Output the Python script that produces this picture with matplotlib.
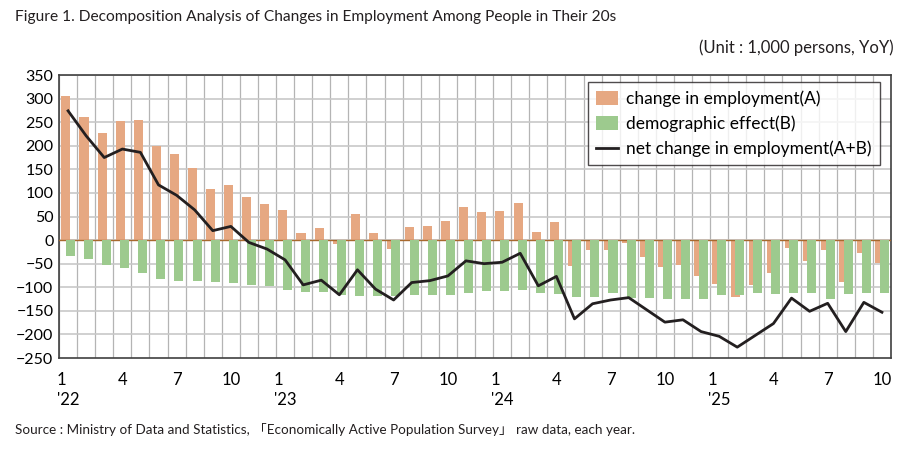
import numpy as np
import matplotlib
matplotlib.use('Agg')
import matplotlib.pyplot as plt

plt.rcParams['font.family'] = ['Lato', 'DejaVu Sans']

# 월별 데이터 (2022.1 ~ 2025.10), 단위: 천명
months = list(range(1, 13)) * 3 + list(range(1, 11))
years = ["'22"] * 12 + ["'23"] * 12 + ["'24"] * 12 + ["'25"] * 10

change_a = [306, 260, 227, 252, 255, 199, 182, 153, 109, 117, 91, 77,
            64, 16, 25, -8, 55, 15, -18, 27, 30, 40, 70, 59,
            62, 78, 17, 38, -54, -22, -20, -7, -35, -57, -52, -77,
            -94, -120, -96, -70, -17, -45, -20, -88, -28, -49]
demo_b = [-33, -41, -52, -60, -70, -82, -86, -86, -89, -90, -95, -98,
          -105, -110, -110, -116, -118, -118, -118, -116, -116, -116, -112, -109,
          -107, -105, -112, -115, -121, -121, -112, -123, -123, -124, -124, -124,
          -117, -117, -112, -115, -112, -112, -124, -114, -112, -112]
net_ab = [274, 221, 175, 193, 186, 117, 95, 64, 20, 29, -5, -19,
          -42, -95, -85, -116, -63, -104, -127, -90, -86, -76, -44, -50,
          -47, -28, -97, -77, -167, -135, -127, -122, -148, -174, -169, -194,
          -204, -227, -202, -177, -123, -151, -134, -194, -132, -153]

x = np.arange(len(months))

fig = plt.figure(figsize=(9.04, 4.51), dpi=100)
ax = fig.add_axes([0.0653, 0.2062, 0.9203, 0.6275])

b1 = ax.bar(x - 0.12, change_a, width=0.5, color='#E6A882', zorder=3, label='change in employment(A)')
ax.axhline(0, color='#A8692E', lw=1, zorder=4)
b2 = ax.bar(x + 0.13, demo_b, width=0.5, color='#9DCA8E', zorder=5, label='demographic effect(B)')
l1, = ax.plot(x, net_ab, color='#231F20', lw=2, zorder=6, label='net change in employment(A+B)')

ax.set_xlim(-0.5, len(x) - 0.5)
ax.set_ylim(-250, 350)
ax.set_yticks(range(-250, 351, 50))
ax.tick_params(axis='y', length=0, labelsize=11.5, pad=4)

# 세로 격자 (월 경계)
for b in np.arange(-0.5, len(x), 1.0):
    ax.axvline(b, color='#B4B4B4', lw=0.9, zorder=1)
for v in range(-200, 351, 50):
    ax.axhline(v, color='#C8C8C8', lw=1.2, zorder=1)

tick_pos = x[::3]
tick_lab = [f'{months[i]}\n{years[i]}' if months[i] == 1 else str(months[i]) for i in tick_pos]
ax.set_xticks(tick_pos)
ax.set_xticklabels(tick_lab, fontsize=12, ha='center',
                   multialignment='left', va='top', linespacing=1.35)
ax.tick_params(axis='x', length=0, pad=10)

for s in ax.spines.values():
    s.set_color('#404040')
    s.set_linewidth(1.2)

leg = ax.legend([b1, b2, l1], [b1.get_label(), b2.get_label(), l1.get_label()],
                loc='upper right', bbox_to_anchor=(0.9925, 0.992), fontsize=12.5, frameon=True,
                fancybox=False, edgecolor='#231F20', handlelength=1.3, handleheight=0.9,
                borderpad=0.45, labelspacing=0.5, handletextpad=0.45, borderaxespad=0.3)
leg.get_frame().set_linewidth(1.0)
leg.set_zorder(10)

fig.text(0.0166, 0.962, 'Figure 1. Decomposition Analysis of Changes in Employment Among People in Their 20s',
         fontsize=11.2, va='center', color='#231F20')
fig.text(0.988, 0.895, '(Unit : 1,000 persons, YoY)',
         fontsize=12, ha='right', va='center', color='#231F20')
fig.text(0.0166, 0.047, 'Source : Ministry of Data and Statistics, \u300cEconomically Active Population Survey\u300d raw data, each year.',
         family=['Lato', 'Noto Sans CJK KR'], fontsize=9.7, va='center', color='#231F20')

fig.savefig('out.png', dpi=100)
